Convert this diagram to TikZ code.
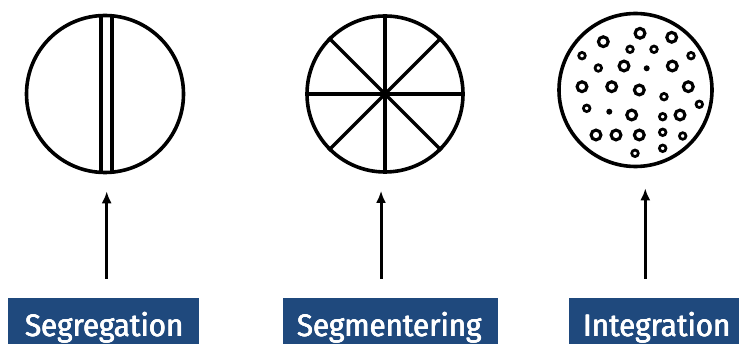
\documentclass[tikz,border=0pt]{standalone}
\usepackage{fontspec}
\setmainfont{Fira Sans}
\newfontfamily\labelfont{Fira Sans}[FakeStretch=0.95]
\newcommand{\heavytext}[1]{\rlap{\kern0.7pt #1}\rlap{\raisebox{0.5pt}{#1}}\rlap{\kern0.35pt\raisebox{0.5pt}{#1}}#1}
\usetikzlibrary{arrows.meta}
\definecolor{boxblue}{RGB}{31,73,125}
\tikzset{
  ring/.style={circle, draw=black, line width=3.6pt, inner sep=0pt},
  divline/.style={line width=3.3pt, black},
  bigdot/.style={draw=black, line width=3.1pt},
  smalldot/.style={draw=black, line width=2.7pt},
  soliddot/.style={fill=black},
  labelbox/.style={fill=boxblue, minimum height=52pt, inner sep=0pt, anchor=north},
  labeltext/.style={text=white, font=\labelfont\fontsize{31}{32}\selectfont, anchor=base, inner sep=0pt},
  uparrow/.style={-{Latex[length=12pt,width=10pt]}, line width=3pt, black}
}
\begin{document}
\begin{tikzpicture}[x=1pt,y=-1pt]
\useasboundingbox (0,0) rectangle (739,344);

% circles
\node[ring, minimum size=157pt] (c1) at (105,94) {};
\node[ring, minimum size=156pt] (c2) at (385,94) {};
\node[ring, minimum size=153pt] (c3) at (635.5,90) {};

% segregation double line
\begin{scope}
  \clip (c1.center) circle[radius=78.5];
  \draw[divline] (101,0) -- (101,200);
  \draw[divline] (112,0) -- (112,200);
\end{scope}

% segmentering spokes
\foreach \a in {0,45,...,315}{
  \draw[divline] (c2.center) -- (c2.\a);
}

% integration dots
\foreach \x/\y in {640/33.3, 603.3/41.7, 671.7/37.3, 624/66, 672.3/66, 582/86.7, 611.7/86.7, 639.3/90, 688.3/86.7, 631.7/115, 680/115, 596/135, 616/135, 639.3/135}{
  \draw[bigdot] (\x,\y) circle[radius=4.9];
}
\foreach \x/\y in {630/49.3, 654/49.3, 582/55.7, 691/55.7, 598.3/68, 664/96.7, 586.7/108.3, 662.7/116.7, 699.3/104.3, 662.7/132.3, 682.7/136, 635/153.3, 662.7/148.3}{
  \draw[smalldot] (\x,\y) circle[radius=3.3];
}
\foreach \x/\y in {646.7/68.3, 609.3/111.7}{
  \fill[soliddot] (\x,\y) circle[radius=3];
}

% label boxes
\node[labelbox, minimum width=191pt] (b1) at (103.7,298) {};
\node[labelbox, minimum width=215pt] (b2) at (390.8,298) {};
\node[labelbox, minimum width=172pt] (b3) at (655,298) {};
\node[labeltext] (t1) at (104,336.7) {\heavytext{Segregation}};
\node[labeltext] (t2) at (389,336.7) {\heavytext{Segmentering}};
\node[labeltext] (t3) at (656.5,336.7) {\heavytext{Integration}};

% arrows
\coordinate (a1) at (106.7,279);
\coordinate (a2) at (381,279);
\coordinate (a3) at (645.3,279);
\draw[uparrow, shorten >=17pt] (a1) -- (a1 |- c1.south);
\draw[uparrow, shorten >=17pt] (a2) -- (a2 |- c2.south);
\draw[uparrow, shorten >=20pt] (a3) -- (a3 |- c3.south);
\end{tikzpicture}
\end{document}
